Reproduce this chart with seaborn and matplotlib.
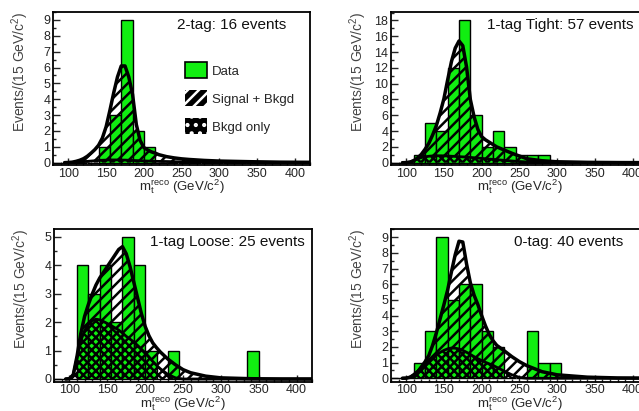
import matplotlib
matplotlib.use("Agg")

import matplotlib.pyplot as plt
import numpy as np
import pandas as pd
import seaborn as sns
from matplotlib.patches import Patch
from matplotlib.ticker import MultipleLocator

# --- DATA ---

# reconstructed top mass grid for the template curves (GeV/c^2)
curve_mass = [95, 100, 105, 110, 115, 120, 125, 130, 135, 140, 145, 150, 155,
              160, 165, 170, 175, 180, 185, 190, 195, 200, 205, 210, 215, 220,
              230, 240, 250, 260, 280, 300, 340, 380, 420]

# 2-tag
tag2_bins = [140, 155, 170, 185, 200]
tag2_counts = [1, 3, 9, 2, 1]
tag2_sig = [0, 0.01, 0.03, 0.08, 0.15, 0.25, 0.4, 0.6, 0.82, 1.1, 1.55, 2.27, 3.3,
            4.4, 5.4, 6.1, 6.1, 5.4, 4.3, 2.4, 1.4, 0.95, 0.8, 0.68, 0.6, 0.5,
            0.38, 0.3, 0.24, 0.2, 0.14, 0.1, 0.06, 0.03, 0.02]
tag2_bkg = [0, 0, 0.01, 0.02, 0.04, 0.06, 0.08, 0.1, 0.12, 0.14, 0.15, 0.16, 0.17,
            0.17, 0.17, 0.16, 0.16, 0.15, 0.14, 0.13, 0.12, 0.11, 0.1, 0.09, 0.085, 0.08,
            0.07, 0.06, 0.05, 0.04, 0.03, 0.02, 0.01, 0, 0]

# 1-tag tight
tight_bins = [110, 125, 140, 155, 170, 185, 200, 215, 230, 245, 260, 275]
tight_counts = [1, 5, 4, 12, 18, 6, 2, 4, 2, 1, 1, 1]
tight_sig = [0, 0.02, 0.07, 0.25, 0.6, 1.05, 1.7, 2.45, 3.5, 4.7, 6.3, 8.1, 10.5,
             12.8, 14.5, 15.4, 14.8, 12.1, 8.0, 5.8, 4.2, 3.3, 2.9, 2.6, 2.3, 2.0,
             1.6, 1.2, 0.85, 0.5, 0.25, 0.12, 0.05, 0.02, 0.01]
tight_bkg = [0, 0.02, 0.1, 0.3, 0.5, 0.65, 0.75, 0.82, 0.86, 0.88, 0.88, 0.87, 0.85,
             0.82, 0.8, 0.77, 0.74, 0.71, 0.67, 0.63, 0.59, 0.55, 0.5, 0.46, 0.42, 0.38,
             0.3, 0.22, 0.15, 0.1, 0.05, 0.02, 0.01, 0, 0]

# 1-tag loose
loose_bins = [110, 125, 140, 155, 170, 185, 200, 230, 335]
loose_counts = [4, 3, 4, 2, 5, 4, 1, 1, 1]
loose_sig = [0, 0.01, 0.15, 0.8, 1.6, 2.2, 2.62, 2.98, 3.3, 3.55, 3.75, 3.95, 4.15,
             4.35, 4.55, 4.65, 4.4, 3.95, 3.4, 2.85, 2.3, 1.85, 1.52, 1.27, 1.1, 0.95,
             0.7, 0.5, 0.33, 0.22, 0.1, 0.04, 0.01, 0, 0]
loose_bkg = [0, 0.01, 0.15, 0.75, 1.35, 1.7, 1.92, 2.05, 2.1, 2.08, 2.02, 1.95, 1.88,
             1.8, 1.72, 1.62, 1.5, 1.4, 1.3, 1.18, 1.05, 0.92, 0.78, 0.62, 0.48, 0.36,
             0.16, 0.04, 0, 0, 0, 0, 0, 0, 0]

# 0-tag
tag0_bins = [110, 125, 140, 155, 170, 185, 200, 215, 260, 275, 290]
tag0_counts = [1, 3, 9, 5, 6, 6, 3, 2, 3, 1, 1]
tag0_sig = [0, 0.01, 0.06, 0.18, 0.4, 0.72, 1.05, 1.45, 2.1, 2.9, 3.8, 4.7, 5.65,
            6.8, 7.9, 8.75, 8.7, 7.3, 6.1, 5.3, 4.7, 4.0, 3.35, 2.8, 2.4, 2.1,
            1.75, 1.38, 1.06, 0.8, 0.42, 0.22, 0.07, 0.02, 0.01]
tag0_bkg = [0, 0.01, 0.08, 0.25, 0.45, 0.66, 0.88, 1.08, 1.3, 1.5, 1.65, 1.78, 1.88,
            1.93, 1.92, 1.87, 1.78, 1.66, 1.52, 1.38, 1.25, 1.13, 1.02, 0.92, 0.82, 0.7,
            0.45, 0.22, 0.05, 0, 0, 0, 0, 0, 0]

titles = ["2-tag: 16 events", "1-tag Tight: 57 events",
          "1-tag Loose: 25 events", "0-tag: 40 events"]

GREEN = "#11ee11"

# --- STYLE ---
sns.set_style("ticks")
plt.rcParams["font.family"] = ["Liberation Sans", "DejaVu Sans"]
plt.rcParams["mathtext.fontset"] = "custom"
plt.rcParams["mathtext.rm"] = "Liberation Sans"
plt.rcParams["mathtext.it"] = "Liberation Sans:italic"
plt.rcParams["hatch.linewidth"] = 1.8

fig = plt.figure(figsize=(6.39, 4.11), dpi=100)

panels = [
    ([0.0834, 0.5985, 0.4017, 0.373], tag2_bins, tag2_counts, tag2_sig, tag2_bkg, (-0.15, 9.52), 1, 0.48),
    ([0.612, 0.5985, 0.4017, 0.373], tight_bins, tight_counts, tight_sig, tight_bkg, (-0.29, 19.1), 2, 0.373),
    ([0.085, 0.0713, 0.4028, 0.3715], loose_bins, loose_counts, loose_sig, loose_bkg, (-0.095, 5.27), 1, 0.372),
    ([0.612, 0.0713, 0.4017, 0.3715], tag0_bins, tag0_counts, tag0_sig, tag0_bkg, (-0.22, 9.53), 1, 0.48),
]

for i, (pos, lo, counts, sig, bkg, ylim, ystep, tx) in enumerate(panels):
    ax = fig.add_axes(pos)
    df = pd.DataFrame({"mass": np.array(lo) + 7.5, "events": counts})
    sns.histplot(data=df, x="mass", weights="events", binwidth=15, binrange=(80, 425),
                 color=GREEN, edgecolor="black", linewidth=1, alpha=1, ax=ax, zorder=1)

    # signal + background band, then background only
    ax.fill_between(curve_mass, bkg, sig, facecolor="none", edgecolor="black",
                    hatch="///", linewidth=0, zorder=2)
    ax.fill_between(curve_mass, 0, bkg, facecolor="none", edgecolor="black",
                    hatch="xxxx", linewidth=0, zorder=2)
    sns.lineplot(x=curve_mass, y=sig, color="black", linewidth=2.5, ax=ax, zorder=3)
    sns.lineplot(x=curve_mass, y=bkg, color="black", linewidth=2.0, ax=ax, zorder=3)

    ax.set_xlim(80, 420)
    ax.set_ylim(*ylim)
    ax.xaxis.set_major_locator(MultipleLocator(50))
    ax.xaxis.set_minor_locator(MultipleLocator(10))
    ax.yaxis.set_major_locator(MultipleLocator(ystep))
    ax.yaxis.set_minor_locator(MultipleLocator(ystep / 2))
    ax.tick_params(which="both", direction="in", labelsize=9, width=1, pad=2)
    ax.tick_params(which="major", length=5)
    ax.tick_params(which="minor", length=2.5)
    for sp in ax.spines.values():
        sp.set_linewidth(1.3)
        sp.set_color("black")

    ax.set_xlabel(r"m$_{\rm t}^{\rm reco}$ (GeV/c$^{2}$)", fontsize=9.5, labelpad=-1.5)
    ax.set_ylabel(r"Events/(15 GeV/c$^{2}$)", fontsize=10, color="#444444", loc="top")
    ax.yaxis.set_label_coords(-0.085, 1.0)
    ax.text(tx, 0.913, titles[i], transform=ax.transAxes, fontsize=11,
            ha="left", va="center", color="#111111")

    if i == 0:
        data_h = Patch(facecolor=GREEN, edgecolor="black", linewidth=1.2)
        sig_h = Patch(facecolor="black", edgecolor="white", hatch="///", linewidth=0)
        bkg_h = Patch(facecolor="black", edgecolor="white", hatch="..", linewidth=0)
        ax.legend([data_h, sig_h, bkg_h], ["Data", "Signal + Bkgd", "Bkgd only"],
                  loc="upper left", bbox_to_anchor=(0.494, 0.705), frameon=False,
                  fontsize=9.5, handlelength=1.65, handleheight=1.5,
                  handletextpad=0.35, labelspacing=0.9, borderaxespad=0)

plt.savefig("out.png", dpi=100)
